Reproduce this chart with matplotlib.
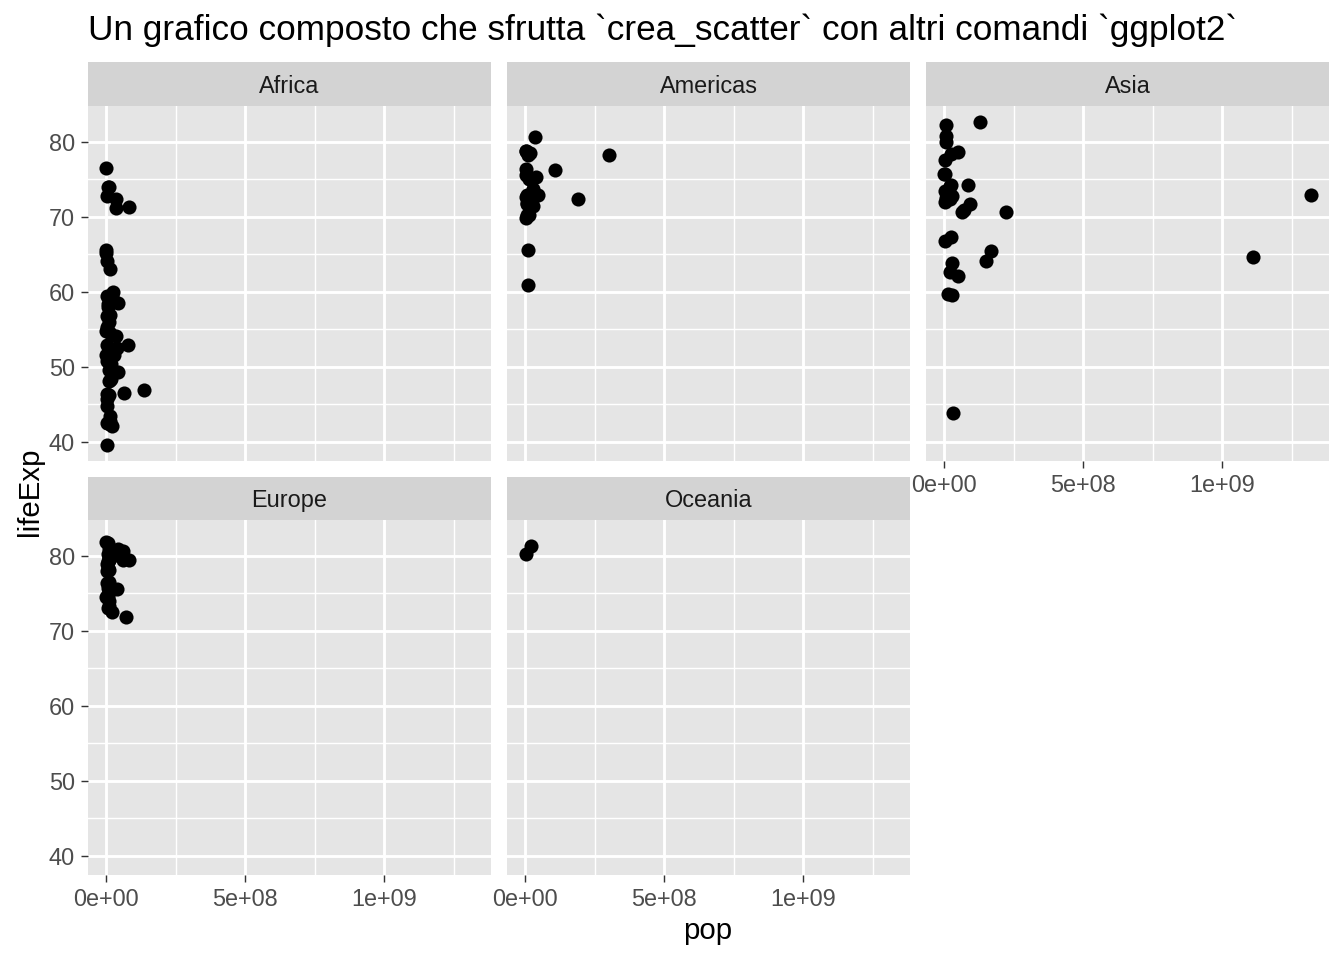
import numpy as np
import matplotlib.pyplot as plt
from matplotlib.ticker import FixedLocator

plt.rcParams['font.family'] = ['Liberation Sans', 'DejaVu Sans']

# gapminder 2007: lifeExp and pop per continent
africa_life = [72.301, 42.731, 56.728, 50.728, 52.295, 49.580, 50.430, 44.741, 50.651, 65.152,
               46.462, 55.322, 48.328, 54.791, 71.338, 51.579, 58.040, 52.947, 56.735, 59.448,
               60.022, 56.007, 46.388, 54.110, 42.592, 45.678, 73.952, 59.443, 48.303, 54.467,
               64.164, 72.801, 71.164, 42.082, 52.906, 56.867, 46.859, 76.442, 46.242, 65.528,
               63.062, 42.568, 48.159, 49.339, 58.556, 39.613, 52.517, 58.420, 73.923, 51.542,
               42.384, 43.487]
africa_pop = [33333216, 12420476, 8078314, 1639131, 14326203, 8390505, 17696293, 4369038,
              10238807, 710960, 64606759, 3800610, 18013409, 496374, 80264543, 551201,
              4906585, 76511887, 1454867, 1688359, 22873338, 9947814, 1472041, 35610177,
              2012649, 3193942, 6036914, 19167654, 13327079, 12031795, 3270065, 1250882,
              33757175, 19951656, 2055080, 12894865, 135031164, 798094, 8860588, 199579,
              12267493, 6144562, 9118773, 43997828, 42292929, 1133066, 38139640, 5701579,
              10276158, 29170398, 11746035, 12311143]

americas_life = [75.320, 65.554, 72.390, 80.653, 78.553, 72.889, 78.782, 78.273, 72.235, 74.994,
                 71.878, 70.259, 60.916, 70.198, 72.567, 76.195, 72.899, 75.537, 71.752, 71.421,
                 78.746, 69.819, 78.242, 76.384, 73.747]
americas_pop = [40301927, 9119152, 190010647, 33390141, 16284741, 44227550, 4133884, 11416987,
                9319622, 13755680, 6939688, 12572928, 8502814, 7483763, 2780132, 108700891,
                5675356, 3242173, 6667147, 28674757, 3942491, 1056608, 301139947, 3447496,
                26084662]

asia_life = [43.828, 75.635, 64.062, 59.723, 72.961, 82.208, 64.698, 70.650, 70.964, 59.545,
             80.745, 82.603, 72.535, 67.297, 78.623, 77.588, 71.993, 74.241, 66.803, 62.069,
             63.785, 75.640, 65.483, 71.688, 72.777, 79.972, 72.396, 74.143, 78.400, 70.616,
             74.249, 73.422, 62.698]
asia_pop = [31889923, 708573, 150448339, 14131858, 1318683096, 6980412, 1110396331, 223547000,
            69453570, 27499638, 6426679, 127467972, 6053193, 23301725, 49044790, 2505559,
            3921278, 24821286, 2874127, 47761980, 28901790, 3204897, 169270617, 91077287,
            27601038, 4553009, 20378239, 19314747, 23174294, 65068149, 85262356, 4018332,
            22211743]

europe_life = [76.423, 79.829, 79.441, 74.852, 73.005, 75.748, 76.486, 78.332, 79.313, 80.657,
               79.406, 79.483, 73.338, 81.757, 78.885, 80.546, 74.543, 79.762, 80.196, 75.563,
               78.098, 72.476, 74.002, 74.663, 77.926, 80.941, 80.884, 81.701, 71.777, 79.425]
europe_pop = [3600523, 8199783, 10392226, 4552198, 7322858, 4493312, 10228744, 5468120,
              5238460, 61083916, 82400996, 10706290, 9956108, 301931, 4109086, 58147733,
              684736, 16570613, 4627926, 38518241, 10642836, 22276056, 10150265, 5447502,
              2009245, 40448191, 9031088, 7554661, 71158647, 60776238]

oceania_life = [81.235, 80.204]
oceania_pop = [20434176, 4115771]

continents = ["Africa", "Americas", "Asia", "Europe", "Oceania"]
life = [africa_life, americas_life, asia_life, europe_life, oceania_life]
pop = [africa_pop, americas_pop, asia_pop, europe_pop, oceania_pop]

x_ticks = [0, 5e8, 1e9]
x_labels = ["0e+00", "5e+08", "1e+09"]
y_ticks = [40, 50, 60, 70, 80]

# shared limits with ggplot-style 5% expansion
all_pop = np.concatenate([np.array(p, float) for p in pop])
all_life = np.concatenate([np.array(v, float) for v in life])
xr = all_pop.max() - all_pop.min()
yr = all_life.max() - all_life.min()
xlim = (all_pop.min() - 0.05 * xr, all_pop.max() + 0.05 * xr)
ylim = (all_life.min() - 0.05 * yr, all_life.max() + 0.05 * yr)

W, H = 1344, 960
fig = plt.figure(figsize=(7, 5), dpi=192)

col_x = [(88, 491), (507, 910), (926, 1329)]
row_y = [(62, 106, 461), (477, 520, 875)]  # strip top, panel top, panel bottom

for i, name in enumerate(continents):
    r, c = divmod(i, 3)
    x0, x1 = col_x[c]
    st, pt, pb = row_y[r]
    ax = fig.add_axes([x0 / W, 1 - pb / H, (x1 - x0) / W, (pb - pt) / H])
    sax = fig.add_axes([x0 / W, 1 - pt / H, (x1 - x0) / W, (pt - st) / H])
    sax.set_facecolor("#D3D3D3")
    sax.set_xticks([])
    sax.set_yticks([])
    for s in sax.spines.values():
        s.set_visible(False)
    sax.text(0.5, 0.5, name, ha="center", va="center_baseline", fontsize=8.8, color="#1A1A1A",
             transform=sax.transAxes)

    ax.set_facecolor("#E5E5E5")
    ax.set_xlim(xlim)
    ax.set_ylim(ylim)
    ax.xaxis.set_major_locator(FixedLocator(x_ticks))
    ax.xaxis.set_minor_locator(FixedLocator([2.5e8, 7.5e8, 1.25e9]))
    ax.yaxis.set_major_locator(FixedLocator(y_ticks))
    ax.yaxis.set_minor_locator(FixedLocator([45, 55, 65, 75]))
    ax.grid(which="major", color="white", linewidth=1.07)
    ax.grid(which="minor", color="white", linewidth=0.53)
    ax.set_axisbelow(True)
    for s in ax.spines.values():
        s.set_visible(False)
    ax.tick_params(which="minor", length=0)
    ax.tick_params(which="major", length=2.75, width=0.53, color="#333333",
                   labelsize=8.8, labelcolor="#4D4D4D", pad=2.2)

    show_x = (r == 1) or (c == 2)
    if show_x:
        ax.set_xticklabels(x_labels)
    else:
        ax.tick_params(axis="x", length=0, labelbottom=False)
    if c == 0:
        ax.set_yticklabels([str(t) for t in y_ticks])
    else:
        ax.tick_params(axis="y", length=0, labelleft=False)

    ax.scatter(pop[i], life[i], s=28, color="black", linewidths=0, zorder=3)

fig.text(88 / W, 1 - 30 / H,
         "Un grafico composto che sfrutta `crea_scatter` con altri comandi `ggplot2`",
         ha="left", va="center", fontsize=13.2, color="black")
fig.text(708 / W, 1 - 931 / H, "pop", ha="center", va="center", fontsize=11)
fig.text(30 / W, 1 - 492 / H, "lifeExp", ha="center", va="center", fontsize=11, rotation=90)

fig.savefig("out.png", dpi=192)
